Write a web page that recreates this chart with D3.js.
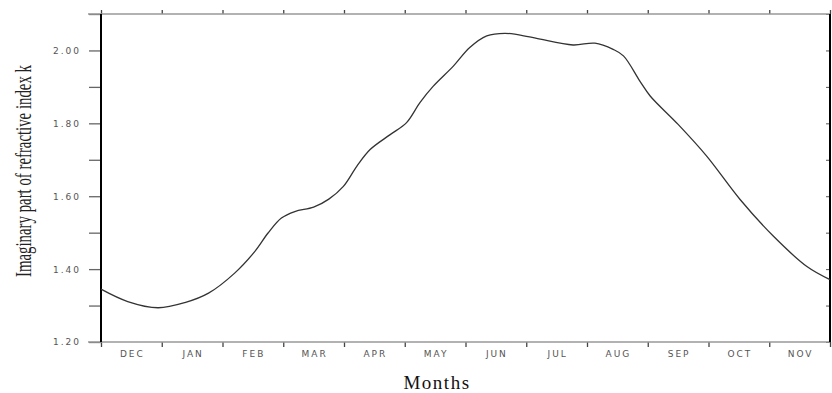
<!DOCTYPE html>
<html>
<head>
<meta charset="utf-8">
<script src="https://cdn.jsdelivr.net/npm/d3@7"></script>
<style>
  body { margin: 0; background: #fff; }
  svg { display: block; }
  .tick text { fill: #555; font-family: "DejaVu Sans", sans-serif; }
  .title { font-family: "Liberation Serif", serif; fill: #222; }
</style>
</head>
<body>
<svg width="832" height="393"></svg>
<script>
// month position along x (0 = start of DEC, 12 = end of NOV) and k values
var monthPos = [0, 0.44, 0.94, 1.38, 1.77, 2.2, 2.53, 2.75, 2.97, 3.19, 3.5, 3.75, 3.99,
    4.21, 4.43, 4.76, 5.03, 5.25, 5.47, 5.8, 6.07, 6.35, 6.65, 7.03, 7.23, 7.77, 8.13,
    8.43, 8.6, 8.87, 9.04, 9.5, 9.97, 10.52, 11.07, 11.62, 12];
var kValues = [1.345, 1.311, 1.294, 1.308, 1.334, 1.389, 1.448, 1.499, 1.54, 1.558, 1.57, 1.592, 1.627,
    1.682, 1.728, 1.769, 1.802, 1.857, 1.902, 1.957, 2.008, 2.04, 2.047, 2.038, 2.031, 2.015, 2.02,
    2.003, 1.985, 1.916, 1.875, 1.797, 1.71, 1.591, 1.49, 1.407, 1.371];
var monthLabels = ["DEC", "JAN", "FEB", "MAR", "APR", "MAY", "JUN", "JUL", "AUG", "SEP", "OCT", "NOV"];
var yTicks = [1.2, 1.3, 1.4, 1.5, 1.6, 1.7, 1.8, 1.9, 2.0, 2.1];
var yLabelTicks = [1.2, 1.4, 1.6, 1.8, 2.0];

var plotL = 101, plotR = 830, plotT = 14, plotB = 342;

var x = d3.scaleLinear().domain([0, 12]).range([plotL, plotR]);
var y = d3.scaleLinear().domain([1.2, 2.1]).range([plotB, plotT]);

var svg = d3.select("svg");

// **** axes ****
var yAxis = svg.append("g")
    .attr("transform", "translate(" + plotL + ",0)")
    .call(d3.axisLeft(y).tickValues(yTicks).tickSize(12).tickPadding(8)
        .tickFormat(function(d) {
            return yLabelTicks.some(function(v) { return Math.abs(v - d) < 1e-6; }) ? d3.format(".2f")(d) : "";
        }));
yAxis.select(".domain").remove();
yAxis.selectAll("line").attr("stroke", "#666").attr("stroke-width", 1.3);
yAxis.selectAll("text").style("font-size", "9px").style("letter-spacing", "2px");

var rAxis = svg.append("g")
    .attr("transform", "translate(" + plotR + ",0)")
    .call(d3.axisLeft(y).tickValues(yTicks).tickSize(4).tickFormat(""));
rAxis.select(".domain").remove();
rAxis.selectAll("line").attr("stroke", "#555");

var xAxis = svg.append("g")
    .attr("transform", "translate(0," + plotB + ")")
    .call(d3.axisBottom(x).tickValues(d3.range(0, 13)).tickSize(5).tickFormat(""));
xAxis.select(".domain").remove();
xAxis.selectAll("line").attr("stroke", "#444").attr("stroke-width", 1.3);

var tAxis = svg.append("g")
    .attr("transform", "translate(0," + plotT + ")")
    .call(d3.axisTop(x).tickValues(d3.range(0, 13)).tickSize(4).tickFormat(""));
tAxis.select(".domain").remove();
tAxis.selectAll("line").attr("stroke", "#444").attr("stroke-width", 1.3);

// month names sit between the ticks
svg.append("g").selectAll("text")
    .data(monthLabels)
    .enter()
    .append("text")
    .attr("x", function(d, i) { return x(i + 0.5) + 1; })
    .attr("y", 357)
    .attr("text-anchor", "middle")
    .style("font-family", "DejaVu Sans, sans-serif")
    .style("font-size", "9px")
    .style("letter-spacing", "2px")
    .style("fill", "#555")
    .text(function(d) { return d; });

// frame
svg.append("line").attr("x1", plotL - 13).attr("x2", plotR).attr("y1", plotT).attr("y2", plotT)
    .attr("stroke", "#999").attr("stroke-width", 1.5);
svg.append("line").attr("x1", plotL - 13).attr("x2", plotR).attr("y1", plotB).attr("y2", plotB)
    .attr("stroke", "#999").attr("stroke-width", 1.5);
svg.append("line").attr("x1", plotL).attr("x2", plotL).attr("y1", plotT).attr("y2", plotB)
    .attr("stroke", "#000").attr("stroke-width", 2);
svg.append("line").attr("x1", plotR).attr("x2", plotR).attr("y1", plotT).attr("y2", plotB)
    .attr("stroke", "#000").attr("stroke-width", 2);

// **** curve ****
var line = d3.line()
    .x(function(d, i) { return x(monthPos[i]); })
    .y(function(d) { return y(d); })
    .curve(d3.curveCatmullRom.alpha(0.5));

svg.append("path")
    .datum(kValues)
    .attr("d", line)
    .attr("fill", "none")
    .attr("stroke", "#333")
    .attr("stroke-width", 1.3);

// **** titles ****
// the y title is a tall, squeezed serif: scale it along its own length
var yTitle = svg.append("text")
    .attr("class", "title")
    .attr("text-anchor", "middle")
    .style("font-size", "24px")
    .text("Imaginary part of refractive index k");
var squeeze = 212 / yTitle.node().getComputedTextLength();
yTitle.attr("transform", "translate(31,171) rotate(-90) scale(" + squeeze + ",1)");

svg.append("text")
    .attr("class", "title")
    .attr("x", 437)
    .attr("y", 389)
    .attr("text-anchor", "middle")
    .style("font-size", "19px")
    .style("letter-spacing", "1.5px")
    .style("fill", "#111")
    .text("Months");
</script>
</body>
</html>
